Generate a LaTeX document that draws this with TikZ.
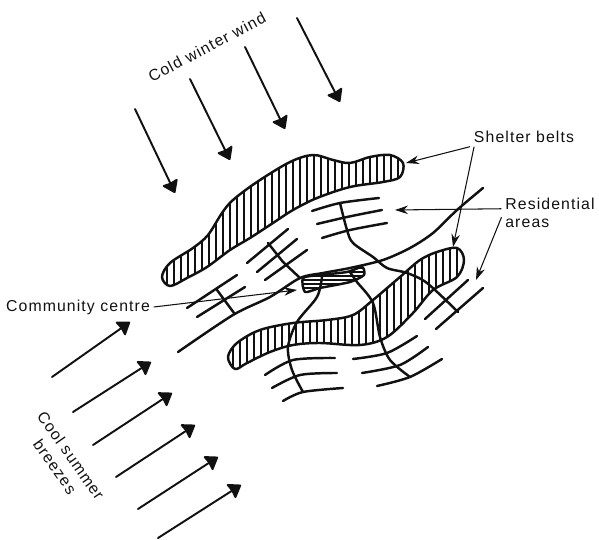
\documentclass[tikz,border=0pt]{standalone}
\usepackage{fontspec}
\setmainfont[LetterSpace=7]{Liberation Sans}
\usetikzlibrary{arrows.meta,calc}
\definecolor{ink}{HTML}{111111}
\begin{document}
\begin{tikzpicture}[
  x=0.02cm,y=-0.02cm,
  font=\small,
  label/.style={text=ink,inner sep=2pt,align=left},
  belt/.style={draw=ink,line width=1.4pt,line join=round},
  hatch/.style={draw=ink,line width=0.75pt},
  road/.style={draw=ink,line width=1.4pt,line cap=round},
  arr/.style={-{Stealth[length=2.6mm,width=1.7mm]},draw=ink,line width=0.6pt},
  wind/.style={-{Stealth[length=2.6mm,width=3.6mm,inset=0.2mm,round]},draw=ink,line width=1.1pt,line cap=round}
]
\useasboundingbox (0,0) rectangle (599,540);
% wind arrows
\foreach \xa/\ya/\xb/\yb in {135/109/175/193,190/79/230/160,245/47/285/129,297/18/340/102}
  \draw[wind] (\xa,\ya) -- (\xb,\yb);
\foreach \xa/\ya/\xb/\yb in {52/377/130/322,73/412/151/362,93/445/172/393,116/477/195/425,138/509/218/457,158/538/241/485}
  \draw[wind] (\xa,\ya) -- (\xb,\yb);
% upper shelter belt
\def\beltupper{plot[smooth cycle,tension=0.55] coordinates {(162,277) (170,263) (193,248) (208,235) (222,213) (233,200) (257,182) (290,162) (313,155) (333,160) (350,163) (370,157) (390,155) (403,163) (400,177) (383,182) (350,187) (317,198) (293,210) (273,223) (250,238) (230,250) (207,267) (187,278) (170,286)}}
\begin{scope}
\clip \beltupper;
\foreach \x in {160,167,...,410} \draw[hatch] (\x,150) -- (\x,290);
\end{scope}
\draw[belt] \beltupper;
% lower shelter belt
\def\beltlower{plot[smooth cycle,tension=0.55] coordinates {(228,357) (237,343) (260,330) (293,323) (327,320) (353,315) (373,300) (400,277) (420,260) (437,252) (457,248) (464,260) (457,277) (433,290) (413,313) (387,337) (360,345) (320,343) (293,345) (270,352) (247,363) (235,369)}}
\begin{scope}
\clip \beltlower;
\foreach \x in {226,233,...,470} \draw[hatch] (\x,245) -- (\x,372);
\end{scope}
\draw[belt] \beltlower;
% community centre
\def\centrepatch{plot[smooth cycle,tension=0.4] coordinates {(303,278) (320,275) (347,272) (362,267) (364,275) (350,282) (320,288) (305,292)}}
\begin{scope}
\clip \centrepatch;
\foreach \y in {264,268,...,296} \draw[hatch] (300,\y) -- (366,\y);
\end{scope}
\draw[belt] \centrepatch;
% main road and branches
\draw[road] plot[smooth,tension=0.5] coordinates {(483,188) (457,210) (433,233) (410,248) (383,260) (350,268) (323,273) (300,278) (270,297) (233,315) (178,352)};
\draw[road] plot[smooth,tension=0.5] coordinates {(340,203) (347,230) (353,243) (373,257) (387,268) (407,273) (427,283) (458,312)};
\draw[road] (268,243) -- (283,262) -- (300,278);
\draw[road] (217,290) -- (234,313);
\draw[road] plot[smooth,tension=0.5] coordinates {(322,277) (317,297) (297,322) (288,347) (292,370) (303,392)};
\draw[road] plot[smooth,tension=0.5] coordinates {(350,272) (357,282) (373,303) (380,337) (390,360) (410,377)};
% residential streets
\foreach \xa/\ya/\xb/\yb/\xc/\yc in {312/211/340/203/379/198,317/224/347/217/382/210,322/238/350/230/387/223,
  265/375/293/360/335/358,272/388/300/375/337/373,283/401/303/392/343/388,
  353/359/387/353/417/336,362/373/400/365/428/347,377/386/410/377/442/359}
  \draw[road] plot[smooth] coordinates {(\xa,\ya) (\xb,\yb) (\xc,\yc)};
\foreach \xa/\ya/\xb/\yb in {247/263/288/229,257/272/297/239,265/280/307/250,187/308/237/275,197/317/245/287,425/319/468/280,436/329/483/288}
  \draw[road] (\xa,\ya) -- (\xb,\yb);
% labels
\node[label,rotate=28] (coldwind) at (207,47) {Cold winter wind};
\node[label] (shelter) at (524,137) {Shelter belts};
\node[label] (residential) at (550,213) {Residential\\[-1pt]areas};
\node[label] (community) at (78,307) {Community centre};
\node[label,rotate=-55,align=center] (coolbreeze) at (63,461) {Cool summer\\breezes};
\coordinate (tipupper) at (406,163);
\coordinate (tiplower) at (453,247);
\coordinate (tipstreets) at (395,210);
\coordinate (tipright) at (476,280);
\coordinate (tipcentre) at (297,290);
\draw[arr] (shelter.south west) -- (tipupper);
\draw[arr] ($(shelter.south west)+(4,0)$) -- (tiplower);
\draw[arr] (residential.175) -- (tipstreets);
\draw[arr] (residential.185) -- (tipright);
\draw[arr] (community.east) -- (tipcentre);
\end{tikzpicture}
\end{document}
